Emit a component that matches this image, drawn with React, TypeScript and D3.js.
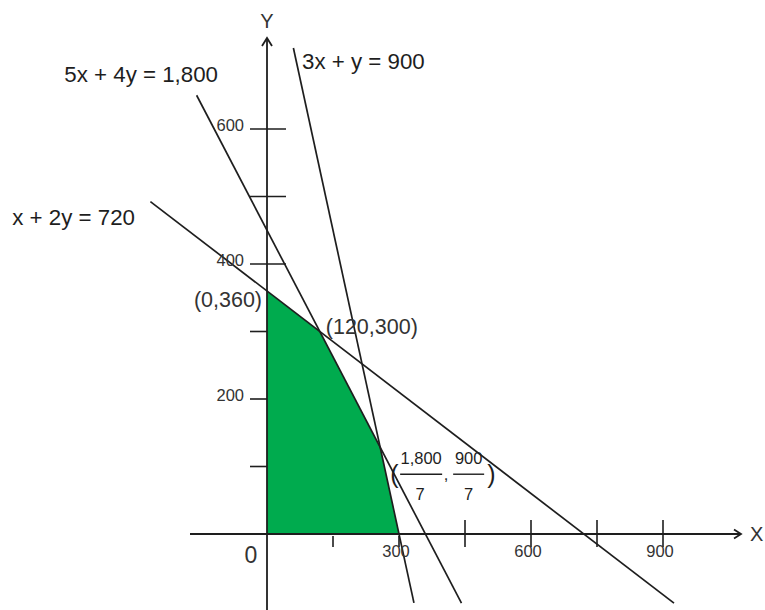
import React from 'react';
import * as d3 from 'd3';

const W = 765;
const H = 610;

// Constraints written as a·x + b·y = c
const lineA = [5, 3, 1];
const lineB = [4, 1, 2];
const lineC = [1800, 900, 720];
const lineNames = ['5x + 4y = 1,800', '3x + y = 900', 'x + 2y = 720'];
// x-range over which each constraint line is drawn
const lineXStart = [-160, 60, -265];
const lineXEnd = [442, 334, 925];

// Corner points of the feasible region
const regionX = [0, 0, 120, 1800 / 7, 300];
const regionY = [0, 360, 300, 900 / 7, 0];

const xTicks = [150, 300, 450, 600, 750, 900];
const xTickText = ['', '300', '', '600', '', '900'];
const yTicks = [100, 200, 300, 400, 500, 600];
const yTickText = ['', '200', '', '400', '', '600'];

const FONT = '"Liberation Sans", Arial, sans-serif';
const INK = '#1e1e1e';

export default function App() {
  const x = d3.scaleLinear().domain([0, 900]).range([267, 663]);
  const y = d3.scaleLinear().domain([0, 600]).range([534, 129]);
  const ox = x(0);
  const oy = y(0);

  const path = d3
    .line<[number, number]>()
    .x((d) => x(d[0]))
    .y((d) => y(d[1]));

  const region: [number, number][] = regionX.map((v, i) => [v, regionY[i]]);
  const regionPath = path.curve(d3.curveLinearClosed)(region) as string;
  const segPath = d3
    .line<[number, number]>()
    .x((d) => x(d[0]))
    .y((d) => y(d[1]));

  const lines = lineA.map((a, i) => {
    const b = lineB[i];
    const c = lineC[i];
    const pts: [number, number][] = [lineXStart[i], lineXEnd[i]].map(
      (xv) => [xv, (c - a * xv) / b] as [number, number]
    );
    return segPath(pts) as string;
  });

  const nameX = [218, 302, 135];
  const nameY = [82, 69, 225];
  const nameAnchor = ['end', 'start', 'end'];

  // vertices used for labels
  const vA = [x(regionX[1]), y(regionY[1])];
  const vB = [x(regionX[2]), y(regionY[2])];
  const vC = [x(regionX[3]), y(regionY[3])];

  const fracX = vC[0] + 10;
  const fracY = vC[1] + 27;

  return (
    <svg
      width={W}
      height={H}
      style={{ position: 'absolute', left: 0, top: 0, display: 'block', background: '#fff' }}
      fontFamily={FONT}
    >
      <rect x={0} y={0} width={W} height={H} fill="#fff" />
      {/* feasible region */}
      <path d={regionPath} fill="#00ab4e" stroke="none" />

      {/* constraint lines */}
      {lines.map((d, i) => (
        <path key={i} d={d} fill="none" stroke={INK} strokeWidth={1.7} />
      ))}

      {/* axes */}
      <line x1={190} y1={oy} x2={740} y2={oy} stroke={INK} strokeWidth={1.8} />
      <line x1={ox} y1={H} x2={ox} y2={38} stroke={INK} strokeWidth={1.8} />
      <polyline
        points={`${ox - 5},46 ${ox},38 ${ox + 5},46`}
        fill="none"
        stroke={INK}
        strokeWidth={1.8}
      />
      <polyline
        points={`734,${oy - 4.5} 741,${oy} 734,${oy + 4.5}`}
        fill="none"
        stroke={INK}
        strokeWidth={1.8}
      />

      {/* y ticks */}
      {yTicks.map((t, i) => (
        <g key={t}>
          <line
            x1={ox - 17}
            x2={t >= 400 ? ox + 19 : ox}
            y1={y(t)}
            y2={y(t)}
            stroke={INK}
            strokeWidth={1.6}
          />
          {yTickText[i] && (
            <text
              x={ox - 23}
              y={y(t) + 2}
              textAnchor="end"
              fontSize={16.5}
              fill="#333"
            >
              {yTickText[i]}
            </text>
          )}
        </g>
      ))}

      {/* x ticks */}
      {xTicks.map((t, i) => (
        <g key={t}>
          <line
            x1={x(t)}
            x2={x(t)}
            y1={t >= 450 ? oy - 14 : oy + 2}
            y2={oy + 13}
            stroke={INK}
            strokeWidth={1.6}
          />
          {xTickText[i] && (
            <text
              x={x(t) - 3}
              y={oy + 23}
              textAnchor="middle"
              fontSize={16.5}
              fill="#333"
            >
              {xTickText[i]}
            </text>
          )}
        </g>
      ))}

      {/* axis names */}
      <text x={ox} y={28} textAnchor="middle" fontSize={20} fill="#333">
        Y
      </text>
      <text x={750} y={oy + 7} textAnchor="start" fontSize={20} fill="#333">
        X
      </text>
      <text x={ox - 16} y={oy + 29} textAnchor="middle" fontSize={23} fill="#333">
        0
      </text>

      {/* constraint names */}
      {lineNames.map((n, i) => (
        <text
          key={n}
          x={nameX[i]}
          y={nameY[i]}
          textAnchor={nameAnchor[i] as any}
          fontSize={22.3}
          fill={INK}
        >
          {n}
        </text>
      ))}

      {/* vertex labels */}
      <text x={vA[0] - 5} y={vA[1] + 16} textAnchor="end" fontSize={21.5} fill="#333">
        (0,360)
      </text>
      <text x={vB[0] + 6} y={vB[1] + 2} textAnchor="start" fontSize={21.5} fill="#333">
        (120,300)
      </text>
      <g transform={`translate(${fracX},${fracY})`} fill={INK}>
        <text x={0} y={9} fontSize={25}>
          (
        </text>
        <text x={31} y={-10} textAnchor="middle" fontSize={16.5}>
          1,800
        </text>
        <line x1={10} x2={52} y1={0} y2={0} stroke={INK} strokeWidth={1.4} />
        <text x={30} y={25.5} textAnchor="middle" fontSize={16.5}>
          7
        </text>
        <text x={56} y={6} textAnchor="middle" fontSize={16.5}>
          ,
        </text>
        <text x={78.5} y={-10} textAnchor="middle" fontSize={16.5}>
          900
        </text>
        <line x1={63} x2={94} y1={0} y2={0} stroke={INK} strokeWidth={1.4} />
        <text x={78.5} y={25.5} textAnchor="middle" fontSize={16.5}>
          7
        </text>
        <text x={97} y={9} fontSize={25}>
          )
        </text>
      </g>
    </svg>
  );
}
